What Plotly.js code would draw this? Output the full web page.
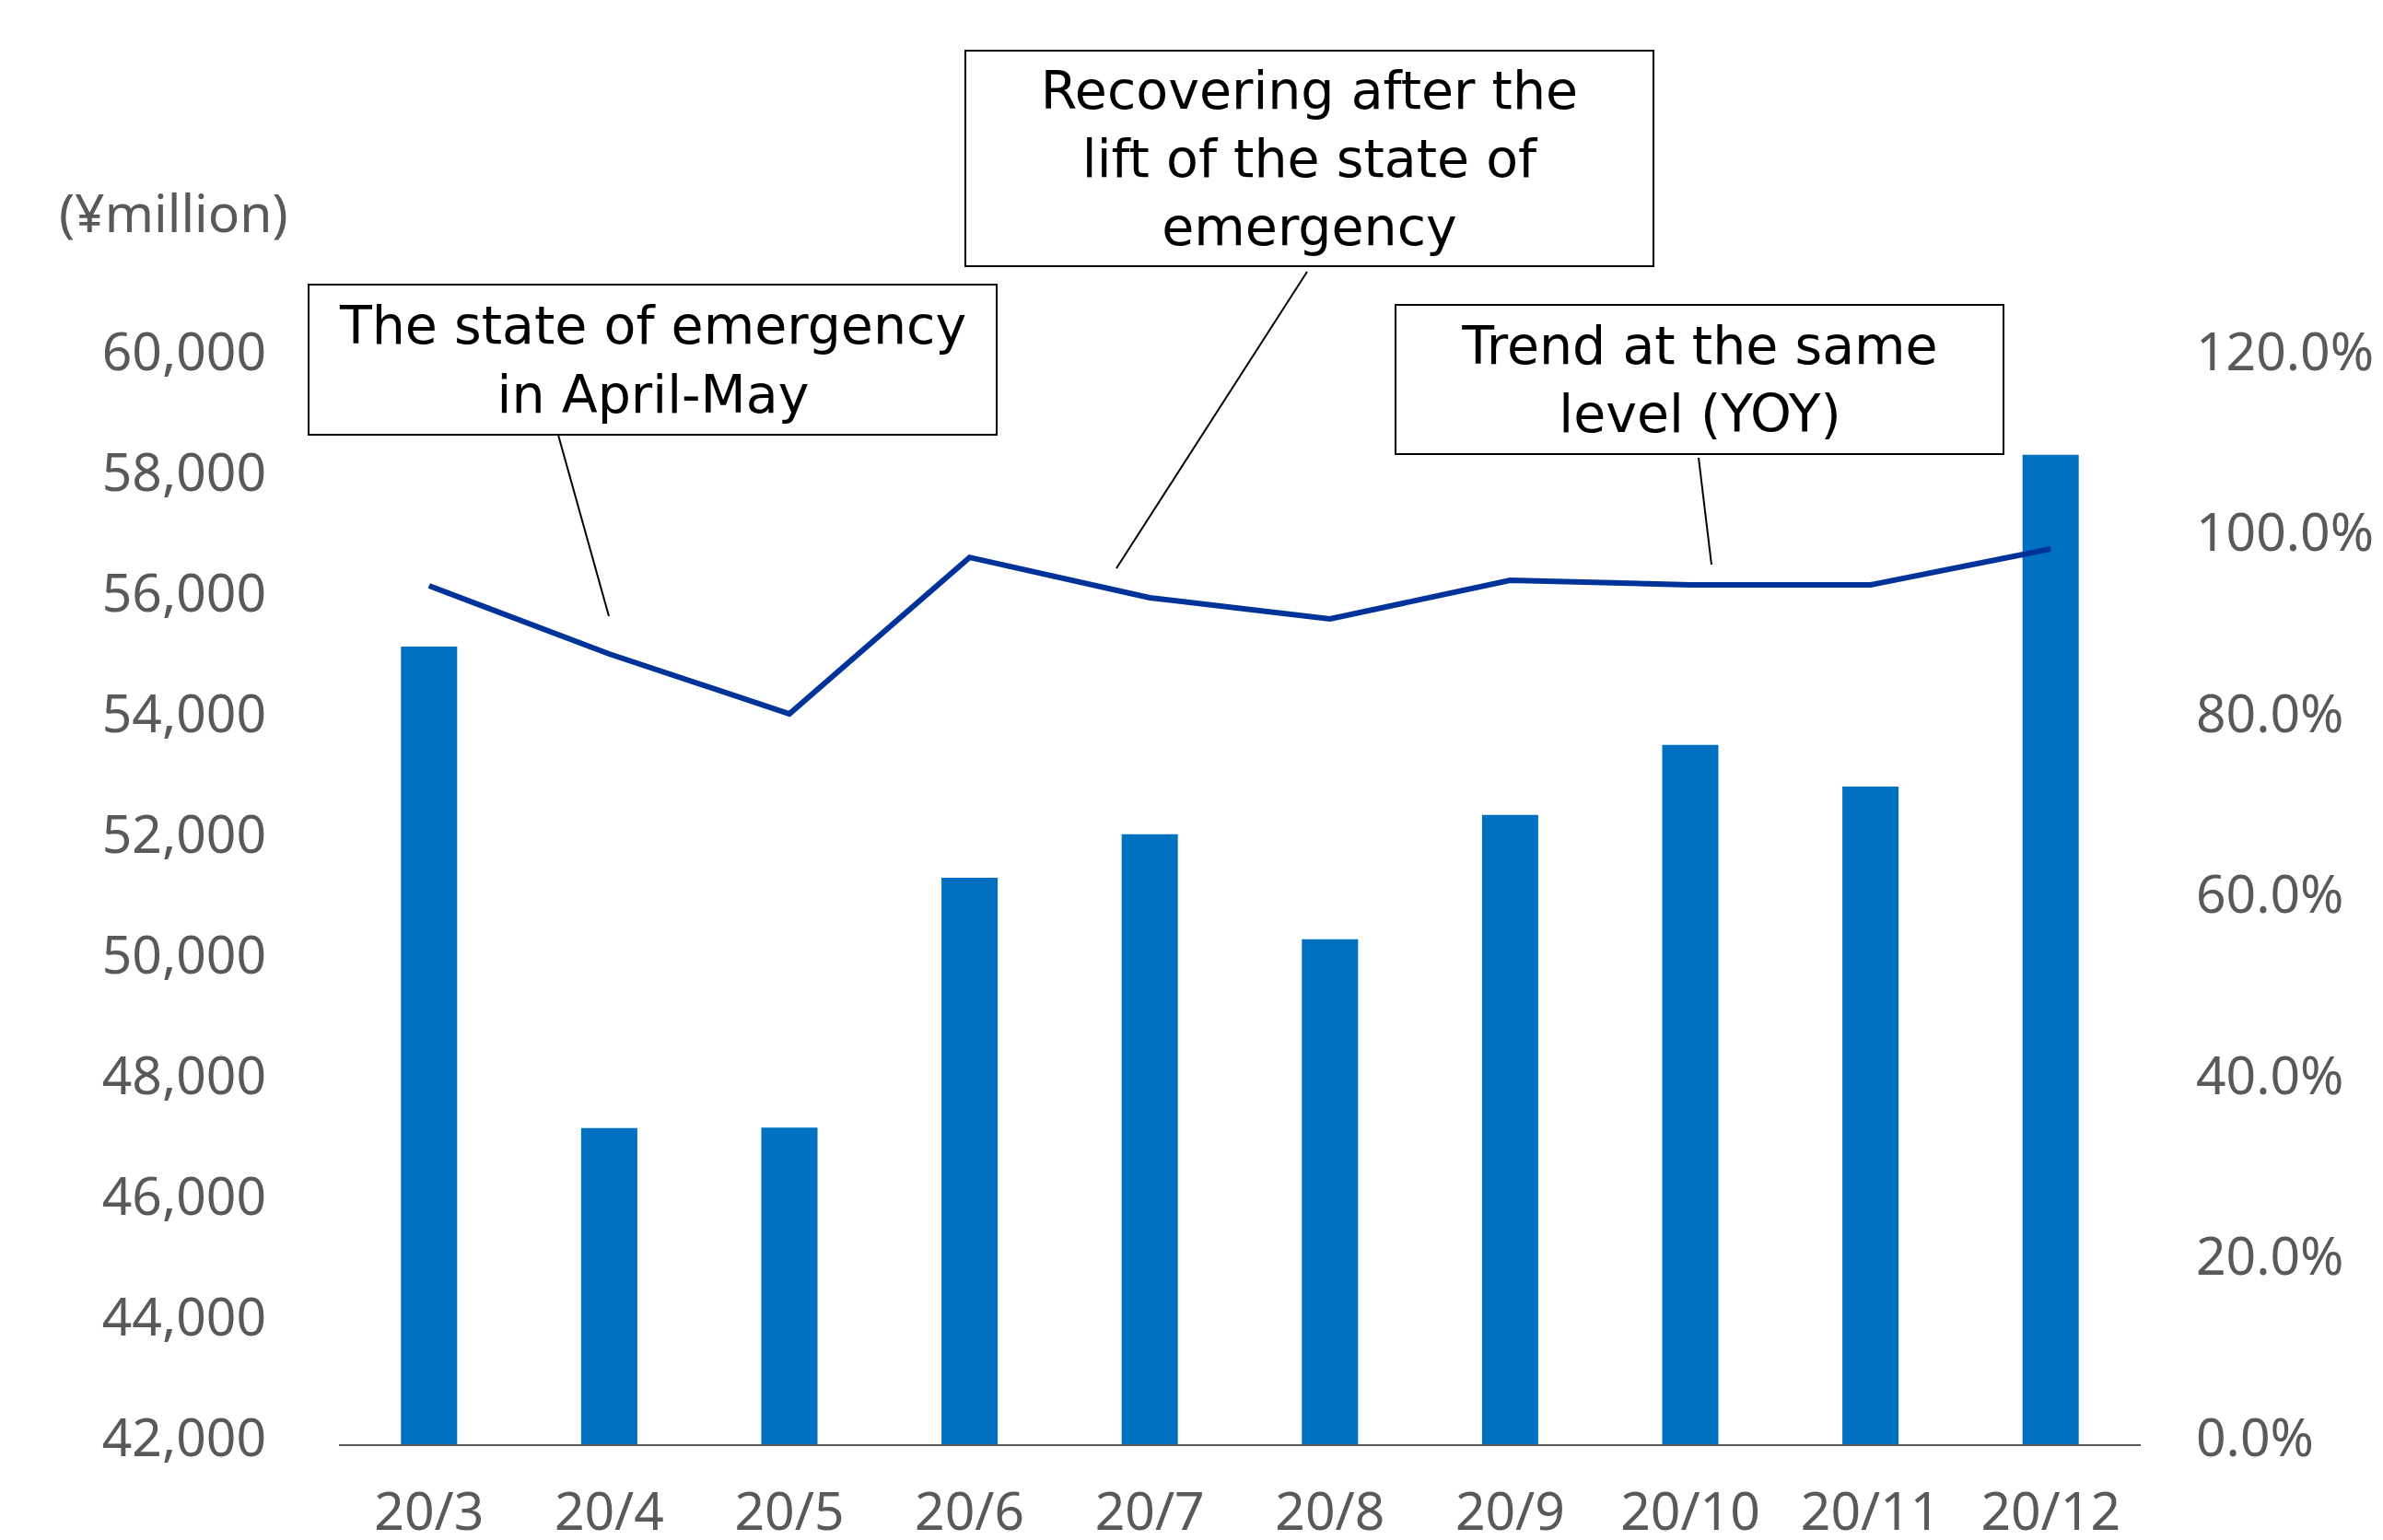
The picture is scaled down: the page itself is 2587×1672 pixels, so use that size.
<!DOCTYPE html>
<html>
<head>
<meta charset="utf-8">
<script src="https://cdn.plot.ly/plotly-3.0.1.min.js"></script>
<style>html,body{margin:0;padding:0;background:#fff;}#chart{width:2587px;height:1672px;}</style>
</head>
<body>
<div id="chart"></div>
<script>
// ---- data ----
const months = ["20/3","20/4","20/5","20/6","20/7","20/8","20/9","20/10","20/11","20/12"];
const sales = [55220, 47240, 47250, 51390, 52110, 50370, 52430, 53590, 52900, 58400]; // ¥million
const yoy = [0.9486, 0.8733, 0.8071, 0.980, 0.9354, 0.912, 0.9547, 0.9496, 0.9496, 0.9893];
const leftTicks = [42000, 44000, 46000, 48000, 50000, 52000, 54000, 56000, 58000, 60000];
const rightTicks = [0, 0.2, 0.4, 0.6, 0.8, 1.0, 1.2];
const unitLabel = "(¥million)";
const notes = [
  "The state of emergency<br>in April-May",
  "Recovering after the<br>lift of the state of<br>emergency",
  "Trend at the same<br>level (YOY)"
];

// ---- layout helpers (pixel -> paper) ----
const W = 2587, H = 1672;
const L = 368, R = 2324, T = 389, B = 1568;
const px = x => (x - L) / (R - L);
const py = y => (B - y) / (B - T);

const gray = "#595959";
const tickFont = {family: "Noto Sans, DejaVu Sans, sans-serif", size: 57, color: gray};
const noteFont = {family: "DejaVu Sans, sans-serif", size: 57, color: "#000"};

const traces = [
  {
    type: "bar", x: months, y: sales, yaxis: "y",
    marker: {color: "#0070C0"}, width: 0.312, hoverinfo: "skip"
  },
  {
    type: "scatter", mode: "lines", x: months, y: yoy, yaxis: "y2",
    line: {color: "#00339A", width: 6}, hoverinfo: "skip"
  }
];

function box(cx, cy, w, h, text) {
  return {
    xref: "paper", yref: "paper", x: px(cx), y: py(cy),
    xanchor: "center", yanchor: "middle",
    text: text, showarrow: false, align: "center", valign: "middle",
    width: w - 4, height: h - 4, borderpad: 0,
    bordercolor: "#000", borderwidth: 2, bgcolor: "#fff", font: noteFont
  };
}
function leader(x0, y0, x1, y1) {
  return {type: "line", xref: "paper", yref: "paper",
    x0: px(x0), y0: py(y0), x1: px(x1), y1: py(y1),
    line: {color: "#000", width: 2}};
}

const layout = {
  width: W, height: H,
  margin: {l: L, r: W - R, t: T, b: H - B, pad: 0},
  paper_bgcolor: "#fff", plot_bgcolor: "#fff",
  showlegend: false,
  xaxis: {
    type: "category", range: [-0.5, 9.5],
    showline: true, linecolor: gray, linewidth: 2,
    showgrid: false, zeroline: false, ticks: "",
    tickfont: tickFont, ticklabelstandoff: 23
  },
  yaxis: {
    range: [42000, 60000], tickvals: leftTicks, tickformat: ",",
    showline: false, showgrid: false, zeroline: false, ticks: "",
    tickfont: tickFont, ticklabelstandoff: 78, ticklabelshift: -7
  },
  yaxis2: {
    overlaying: "y", side: "right", range: [0, 1.2], tickvals: rightTicks,
    tickformat: ".1%", showline: false, showgrid: false, zeroline: false, ticks: "",
    tickfont: tickFont, ticklabelstandoff: 59, ticklabelshift: -7
  },
  shapes: [
    leader(604, 465, 661, 669),
    leader(1419, 295, 1212, 617),
    leader(1844, 497, 1858, 613)
  ],
  annotations: [
    {xref: "paper", yref: "paper", x: px(188), y: py(230), xanchor: "center", yanchor: "middle",
     text: unitLabel, showarrow: false, font: tickFont},
    box(708.5, 390.5, 749, 165, notes[0]),
    box(1421.5, 172, 749, 236, notes[1]),
    box(1845, 411.5, 662, 164, notes[2])
  ]
};

Plotly.newPlot("chart", traces, layout, {staticPlot: true, displayModeBar: false});
</script>
</body>
</html>
